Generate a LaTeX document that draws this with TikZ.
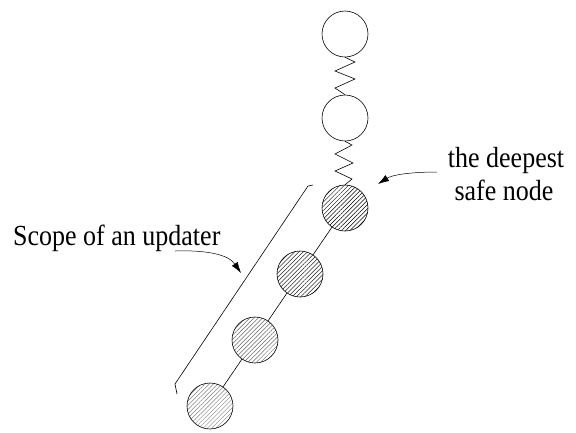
\documentclass[tikz,border=0pt]{standalone}
\usepackage{fontspec}
\setmainfont{Liberation Serif}
\usetikzlibrary{patterns.meta,arrows.meta}
\begin{document}
\begin{tikzpicture}[x=1pt,y=-1pt,
  plain/.style={circle,draw,line width=0.6pt,minimum size=46pt,inner sep=0pt},
  hatched/.style={plain,pattern={Lines[angle=45,distance=3pt,line width=0.45pt]},pattern color=#1},
  lbl/.style={font=\fontsize{26}{33}\selectfont,inner sep=0pt},
  pointer/.style={line width=0.5pt,-{Latex[length=11pt,width=7pt]}}]
\useasboundingbox (0,0) rectangle (576,432);
\node[plain] (c1) at (345,34) {};
\node[plain] (c2) at (345,118) {};
\node[hatched=black] (c3) at (345,208) {};
\node[hatched=black!85] (c4) at (300,274) {};
\node[hatched=black!60] (c5) at (255,340) {};
\node[hatched=black!50] (c6) at (210,406) {};
% springs
\draw[line width=0.6pt] (c1.south) -- (355,62) -- (335,71) -- (355,79) -- (335,88) -- (c2.north);
\draw[line width=0.6pt] (c2.south) -- (352,145) -- (335,154) -- (353,163) -- (335,171) -- (352,179) -- (c3.north);
% chain
\draw[line width=0.6pt] (c3) -- (c4) (c4) -- (c5) (c5) -- (c6);
% scope bracket
\coordinate (b0) at (313,185);
\coordinate (b1) at (308,186);
\coordinate (b2) at (175,384);
\coordinate (b3) at (177,394);
\draw[line width=0.6pt] (b0) -- (b1) -- (b2) -- (b3);
% labels
\node[lbl,anchor=base] (safe1) at (506,167) {\scalebox{1}[1.12]{the deepest}};
\node[lbl,anchor=base] (safe2) at (504,200) {\scalebox{1}[1.12]{safe node}};
\node[lbl,anchor=base west] (scope) at (13,245) {\scalebox{1}[1.12]{Scope of an updater}};
\coordinate (a1) at (437,172);
\coordinate (t1) at (378,184);
\draw[pointer] (a1) .. controls (410,172) and (392,175) .. (t1);
\coordinate (a2) at (175,251);
\coordinate (t2) at (241,273);
\draw[pointer] (a2) .. controls (205,250) and (228,254) .. (t2);
\end{tikzpicture}
\end{document}
